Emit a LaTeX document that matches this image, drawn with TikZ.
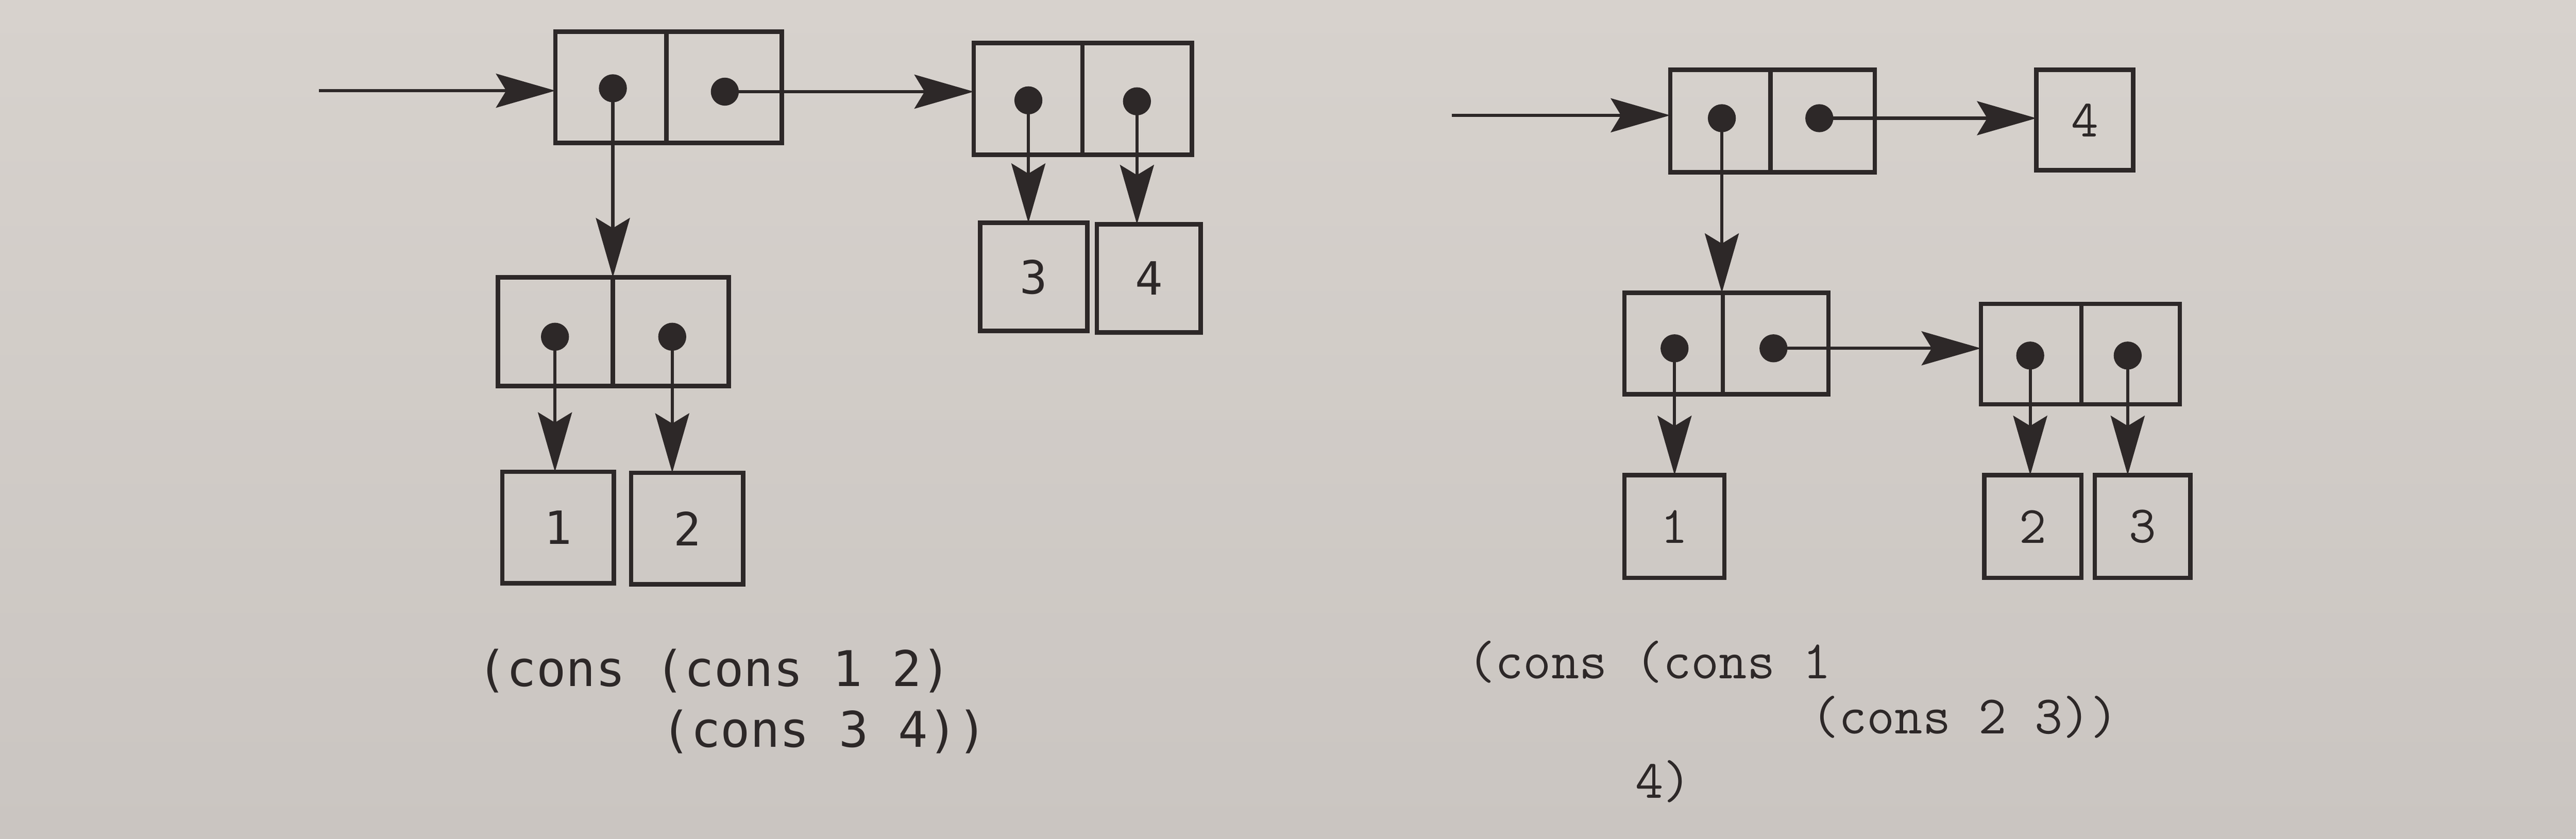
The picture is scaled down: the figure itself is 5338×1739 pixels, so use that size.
\documentclass[tikz,border=0pt]{standalone}
\usepackage{fontspec}
\usetikzlibrary{arrows.meta}
\newfontfamily\lmono{DejaVu Sans Mono}
\definecolor{paper}{RGB}{215,210,205}
\definecolor{paperdark}{RGB}{202,197,193}
\definecolor{ink}{RGB}{45,40,40}
\tikzset{
 cell/.style={draw=ink, line width=2.6pt, inner sep=0pt, outer sep=0pt},
 ldigit/.style={font=\lmono\fontsize{27}{32}\selectfont, text=ink},
 rdigit/.style={font=\ttfamily\fontsize{31}{36}\selectfont\addfontfeatures{FakeBold=0.6}, text=ink},
 dotnode/.style={circle, fill=ink, inner sep=0pt, minimum size=0.58cm},
 ptr/.style={draw=ink, line width=1.9pt, -{Stealth[length=35pt,width=20pt,inset=6pt]}},
 ltext/.style={anchor=base west, inner sep=0pt, text=ink, font=\lmono\fontsize{29}{34}\selectfont},
 rtext/.style={anchor=base west, inner sep=0pt, text=ink, font=\ttfamily\fontsize{32}{38}\selectfont\addfontfeatures{FakeBold=0.8}},
}
\begin{document}
\begin{tikzpicture}[x=0.01cm,y=-0.01cm]
\shade[top color=paper, bottom color=paperdark] (0,0) rectangle (5338,1739);
\useasboundingbox (0,0) rectangle (5338,1739);

% ---------- left diagram ----------
\node[cell, minimum width=2.30cm, minimum height=2.30cm] (P1a) at (1266,181) {};
\node[cell, minimum width=2.39cm, minimum height=2.30cm] (P1b) at (1500.5,181) {};
\node[cell, minimum width=2.25cm, minimum height=2.32cm] (P2a) at (2130.5,205) {};
\node[cell, minimum width=2.27cm, minimum height=2.32cm] (P2b) at (2356.5,205) {};
\node[cell, ldigit, minimum width=2.22cm, minimum height=2.24cm] (B3) at (2142,574) {3};
\node[cell, ldigit, minimum width=2.15cm, minimum height=2.24cm] (B4) at (2380.5,577) {4};
\node[cell, minimum width=2.38cm, minimum height=2.25cm] (P3a) at (1151,687.5) {};
\node[cell, minimum width=2.40cm, minimum height=2.25cm] (P3b) at (1390,687.5) {};
\node[cell, ldigit, minimum width=2.31cm, minimum height=2.31cm] (B1) at (1156.5,1093.5) {1};
\node[cell, ldigit, minimum width=2.32cm, minimum height=2.31cm] (B2) at (1424,1095.5) {2};

\coordinate (d1a) at (1270,183);
\coordinate (d1b) at (1502,190);
\coordinate (d2a) at (2131,208);
\coordinate (d2b) at (2356,210);
\coordinate (d3a) at (1150,698);
\coordinate (d3b) at (1393,698);
\coordinate (inL) at (661,188);

\draw[ptr] (inL) -- (inL -| P1a.west);
\draw[ptr] (d1b) -- (d1b -| P2a.west);
\draw[ptr] (d1a) -- (d1a |- P3a.north);
\draw[ptr] (d2a) -- (d2a |- B3.north);
\draw[ptr] (d2b) -- (d2b |- B4.north);
\draw[ptr] (d3a) -- (d3a |- B1.north);
\draw[ptr] (d3b) -- (d3b |- B2.north);

\node[dotnode] (D1a) at (d1a) {};
\node[dotnode] (D1b) at (d1b) {};
\node[dotnode] (D2a) at (d2a) {};
\node[dotnode] (D2b) at (d2b) {};
\node[dotnode] (D3a) at (d3a) {};
\node[dotnode] (D3b) at (d3b) {};

\node[ltext] (tl1) at (988,1423) {(cons (cons 1 2)};
\node[ltext] (tl2) at (1370,1548) {(cons 3 4))};

% ---------- right diagram ----------
\node[cell, minimum width=2.08cm, minimum height=2.12cm] (Q1a) at (3565,251) {};
\node[cell, minimum width=2.16cm, minimum height=2.12cm] (Q1b) at (3777,251) {};
\node[cell, rdigit, minimum width=2.00cm, minimum height=2.08cm] (R4) at (4320,249) {4};
\node[cell, minimum width=2.04cm, minimum height=2.10cm] (Q2a) at (3468,712) {};
\node[cell, minimum width=2.19cm, minimum height=2.10cm] (Q2b) at (3679.5,712) {};
\node[cell, minimum width=2.08cm, minimum height=2.08cm] (Q3a) at (4209,734) {};
\node[cell, minimum width=2.04cm, minimum height=2.08cm] (Q3b) at (4415,734) {};
\node[cell, rdigit, minimum width=2.07cm, minimum height=2.13cm] (R1) at (3469.5,1091.5) {1};
\node[cell, rdigit, minimum width=2.01cm, minimum height=2.13cm] (R2) at (4212.5,1091.5) {2};
\node[cell, rdigit, minimum width=1.98cm, minimum height=2.13cm] (R3) at (4440,1091.5) {3};

\coordinate (e1a) at (3568,245);
\coordinate (e1b) at (3770,245);
\coordinate (e2a) at (3470,722);
\coordinate (e2b) at (3675,722);
\coordinate (e3a) at (4207,737);
\coordinate (e3b) at (4409,737);
\coordinate (inR) at (3008,239);

\draw[ptr] (inR) -- (inR -| Q1a.west);
\draw[ptr] (e1b) -- (e1b -| R4.west);
\draw[ptr] (e1a) -- (e1a |- Q2a.north);
\draw[ptr] (e2b) -- (e2b -| Q3a.west);
\draw[ptr] (e2a) -- (e2a |- R1.north);
\draw[ptr] (e3a) -- (e3a |- R2.north);
\draw[ptr] (e3b) -- (e3b |- R3.north);

\node[dotnode] (E1a) at (e1a) {};
\node[dotnode] (E1b) at (e1b) {};
\node[dotnode] (E2a) at (e2a) {};
\node[dotnode] (E2b) at (e2b) {};
\node[dotnode] (E3a) at (e3a) {};
\node[dotnode] (E3b) at (e3b) {};

\node[rtext] (tr1) at (3040,1407) {(cons (cons 1};
\node[rtext] (tr2) at (3752,1521) {(cons 2 3))};
\node[rtext] (tr3) at (3388,1654) {4)};
\end{tikzpicture}
\end{document}
